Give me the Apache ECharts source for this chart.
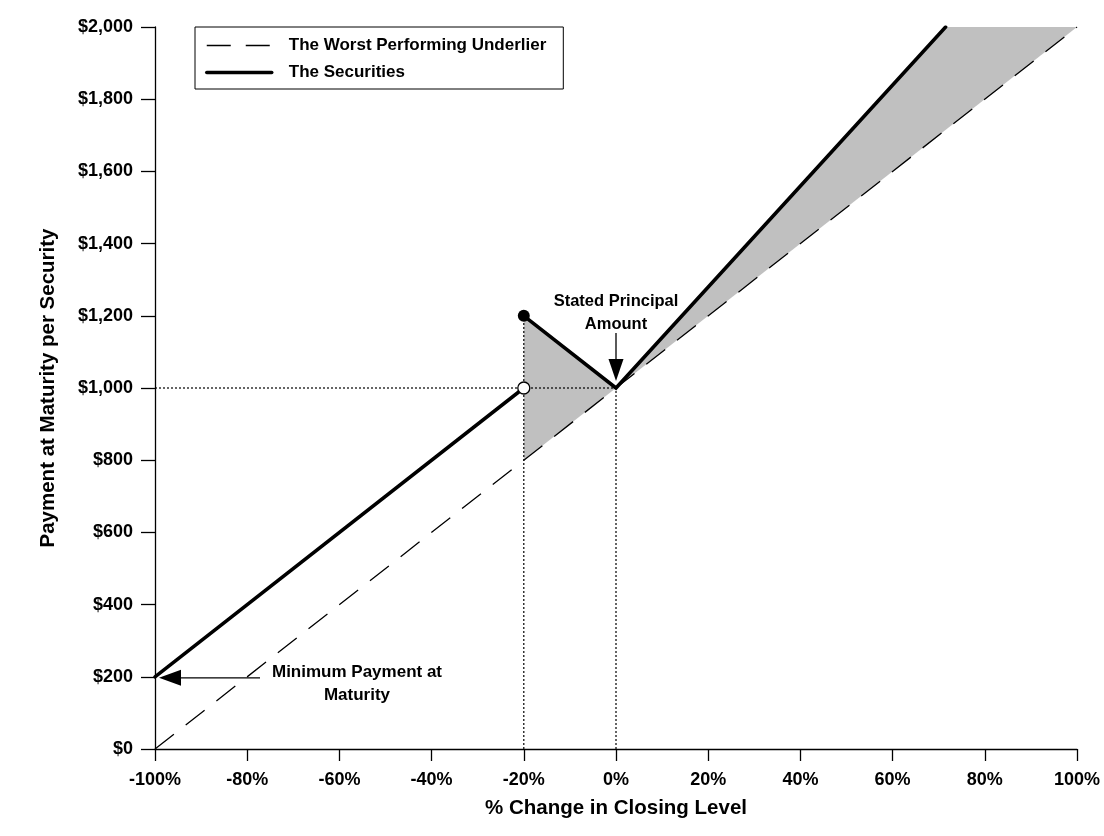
<!DOCTYPE html>
<html>
<head>
<meta charset="utf-8">
<script src="https://cdn.jsdelivr.net/npm/echarts@6/dist/echarts.min.js"></script>
<style>
  html, body { margin: 0; padding: 0; background: #fff; }
  #chart { width: 1104px; height: 836px; }
</style>
</head>
<body>
<div id="chart"></div>
<script type="text/javascript">
    // axis ranges (x in %, y in $)
    var xRange = [-100, 100, 20];
    var yRange = [0, 2000, 200];

    // payoff lines
    var underlier = [[-100, 0], [100, 2000]];
    var securitiesBelow = [[-100, 200], [-20, 1000]];
    var securitiesAbove = [[-20, 1200], [0, 1000], [71.5, 2000]];

    // gray areas between the two lines
    var shadeAreas = [
        [[-20, 800], [-20, 1200], [0, 1000]],
        [[0, 1000], [71.5, 2000], [100, 2000]]
    ];

    // dotted reference lines
    var guides = [
        [[-100, 1000], [0, 1000]],
        [[-20, 0], [-20, 1200]],
        [[0, 0], [0, 1000]]
    ];

    var filledPoint = [[-20, 1200]];
    var openPoint = [[-20, 1000]];

    // annotations: text and the point the arrow goes to
    var noteTexts = ['Stated Principal\nAmount', 'Minimum Payment at\nMaturity'];
    var notePoints = [[0, 1000], [-100, 200]];

    var FONT = '"Liberation Sans", Arial, Helvetica, sans-serif';

    var myChart = echarts.init(document.getElementById('chart'));

    var series = [];

    series.push({
        type: 'custom',
        name: 'shade',
        z: 1,
        silent: true,
        clip: false,
        data: shadeAreas.map(function (a, i) { return [i]; }),
        renderItem: function (params, api) {
            var pts = shadeAreas[params.dataIndex].map(function (p) { return api.coord(p); });
            return {
                type: 'polygon',
                shape: { points: pts },
                style: { fill: '#c0c0c0', stroke: null }
            };
        }
    });

    guides.forEach(function (g, i) {
        series.push({
            type: 'line',
            name: 'guide' + i,
            z: 2,
            silent: true,
            symbol: 'none',
            data: g,
            lineStyle: { color: '#000', width: 1.2, type: [2, 2] }
        });
    });

    series.push({
        type: 'line',
        name: 'The Worst Performing Underlier',
        z: 3,
        symbol: 'none',
        data: underlier,
        itemStyle: { color: '#000' },
        lineStyle: { color: '#000', width: 1.3, type: [24, 15] }
    });

    series.push({
        type: 'line',
        name: 'The Securities',
        z: 4,
        symbol: 'none',
        data: securitiesBelow,
        itemStyle: { color: '#000' },
        lineStyle: { color: '#000', width: 3.5, cap: 'round' }
    });
    series.push({
        type: 'line',
        name: 'The Securities',
        z: 4,
        symbol: 'none',
        data: securitiesAbove,
        itemStyle: { color: '#000' },
        lineStyle: { color: '#000', width: 3.5, cap: 'round', join: 'miter' }
    });

    series.push({
        type: 'scatter',
        name: 'filled',
        z: 5,
        symbolSize: 12,
        data: filledPoint,
        itemStyle: { color: '#000', opacity: 1 }
    });
    series.push({
        type: 'scatter',
        name: 'open',
        z: 5,
        symbolSize: 12,
        data: openPoint,
        itemStyle: { color: '#fff', borderColor: '#000', borderWidth: 1.3, opacity: 1 }
    });

    // arrows + labels
    series.push({
        type: 'custom',
        name: 'notes',
        z: 6,
        silent: true,
        clip: false,
        data: notePoints,
        renderItem: function (params, api) {
            var p = api.coord([api.value(0), api.value(1)]);
            var txt = noteTexts[params.dataIndex];
            var shaft, head, tx, ty, fs;
            if (params.dataIndex === 0) {
                // down arrow above the point
                var tip = [p[0], p[1] - 7];
                shaft = [p[0], p[1] - 55, p[0], tip[1] - 20];
                head = [tip, [tip[0] - 7.5, tip[1] - 22], [tip[0] + 7.5, tip[1] - 22]];
                tx = p[0]; ty = p[1] - 75; fs = 16.5;
            } else {
                // left arrow right of the point
                var tip2 = [p[0] + 4, p[1] + 1];
                shaft = [tip2[0] + 20, tip2[1], p[0] + 105, tip2[1]];
                head = [tip2, [tip2[0] + 22, tip2[1] - 8], [tip2[0] + 22, tip2[1] + 8]];
                tx = p[0] + 202; ty = p[1] + 7; fs = 17;
            }
            return {
                type: 'group',
                children: [
                    {
                        type: 'line',
                        shape: { x1: shaft[0], y1: shaft[1], x2: shaft[2], y2: shaft[3] },
                        style: { stroke: '#000', lineWidth: 1.3 }
                    },
                    {
                        type: 'polygon',
                        shape: { points: head },
                        style: { fill: '#000' }
                    },
                    {
                        type: 'text',
                        style: {
                            x: tx, y: ty, text: txt,
                            textAlign: 'center', textVerticalAlign: 'middle',
                            fontSize: fs, fontWeight: 'bold', fontFamily: FONT,
                            lineHeight: 23, fill: '#000'
                        }
                    }
                ]
            };
        }
    });

    var options = {
        animation: false,
        backgroundColor: '#fff',
        textStyle: { fontFamily: FONT, color: '#000' },
        grid: { left: 155, right: 27, top: 27, bottom: 87 },
        legend: {
            data: [
                { name: 'The Worst Performing Underlier', lineStyle: { width: 1.3, type: [24, 15], color: '#000' } },
                { name: 'The Securities', lineStyle: { width: 3.5, color: '#000' } }
            ],
            orient: 'vertical',
            left: 195,
            top: 27,
            padding: [10, 17, 8, 10],
            itemGap: 10,
            itemWidth: 65,
            itemHeight: 16,
            borderColor: '#000',
            borderWidth: 1,
            borderRadius: 0,
            backgroundColor: '#fff',
            selectedMode: false,
            itemStyle: { opacity: 0, color: 'rgba(0,0,0,0)', borderWidth: 0 },
            textStyle: {
                fontSize: 17, fontWeight: 'bold', color: '#000', fontFamily: FONT,
                padding: [0, 0, 0, 12]
            }
        },
        xAxis: {
            type: 'value',
            min: xRange[0],
            max: xRange[1],
            interval: xRange[2],
            name: '% Change in Closing Level',
            nameLocation: 'middle',
            nameGap: 49,
            nameTextStyle: { fontSize: 20.5, fontWeight: 'bold', color: '#000', fontFamily: FONT },
            splitLine: { show: false },
            axisLine: { onZero: false, lineStyle: { color: '#000', width: 1.3 } },
            axisTick: { length: 12, lineStyle: { color: '#000', width: 1.3 } },
            axisLabel: {
                margin: 22, fontSize: 18, fontWeight: 'bold', color: '#000', fontFamily: FONT,
                formatter: function (v) { return v + '%'; }
            }
        },
        yAxis: {
            type: 'value',
            min: yRange[0],
            max: yRange[1],
            interval: yRange[2],
            name: 'Payment at Maturity per Security',
            nameLocation: 'middle',
            nameGap: 96,
            nameTextStyle: { fontSize: 20.5, fontWeight: 'bold', color: '#000', fontFamily: FONT },
            splitLine: { show: false },
            axisLine: { show: true, onZero: false, lineStyle: { color: '#000', width: 1.3 } },
            axisTick: { show: true, length: 14, lineStyle: { color: '#000', width: 1.3 } },
            axisLabel: {
                margin: 22, fontSize: 18, fontWeight: 'bold', color: '#000', fontFamily: FONT,
                formatter: function (v) { return '$' + v.toLocaleString('en-US'); }
            }
        },
        series: series
    };

    myChart.setOption(options);
</script>
</body>
</html>
